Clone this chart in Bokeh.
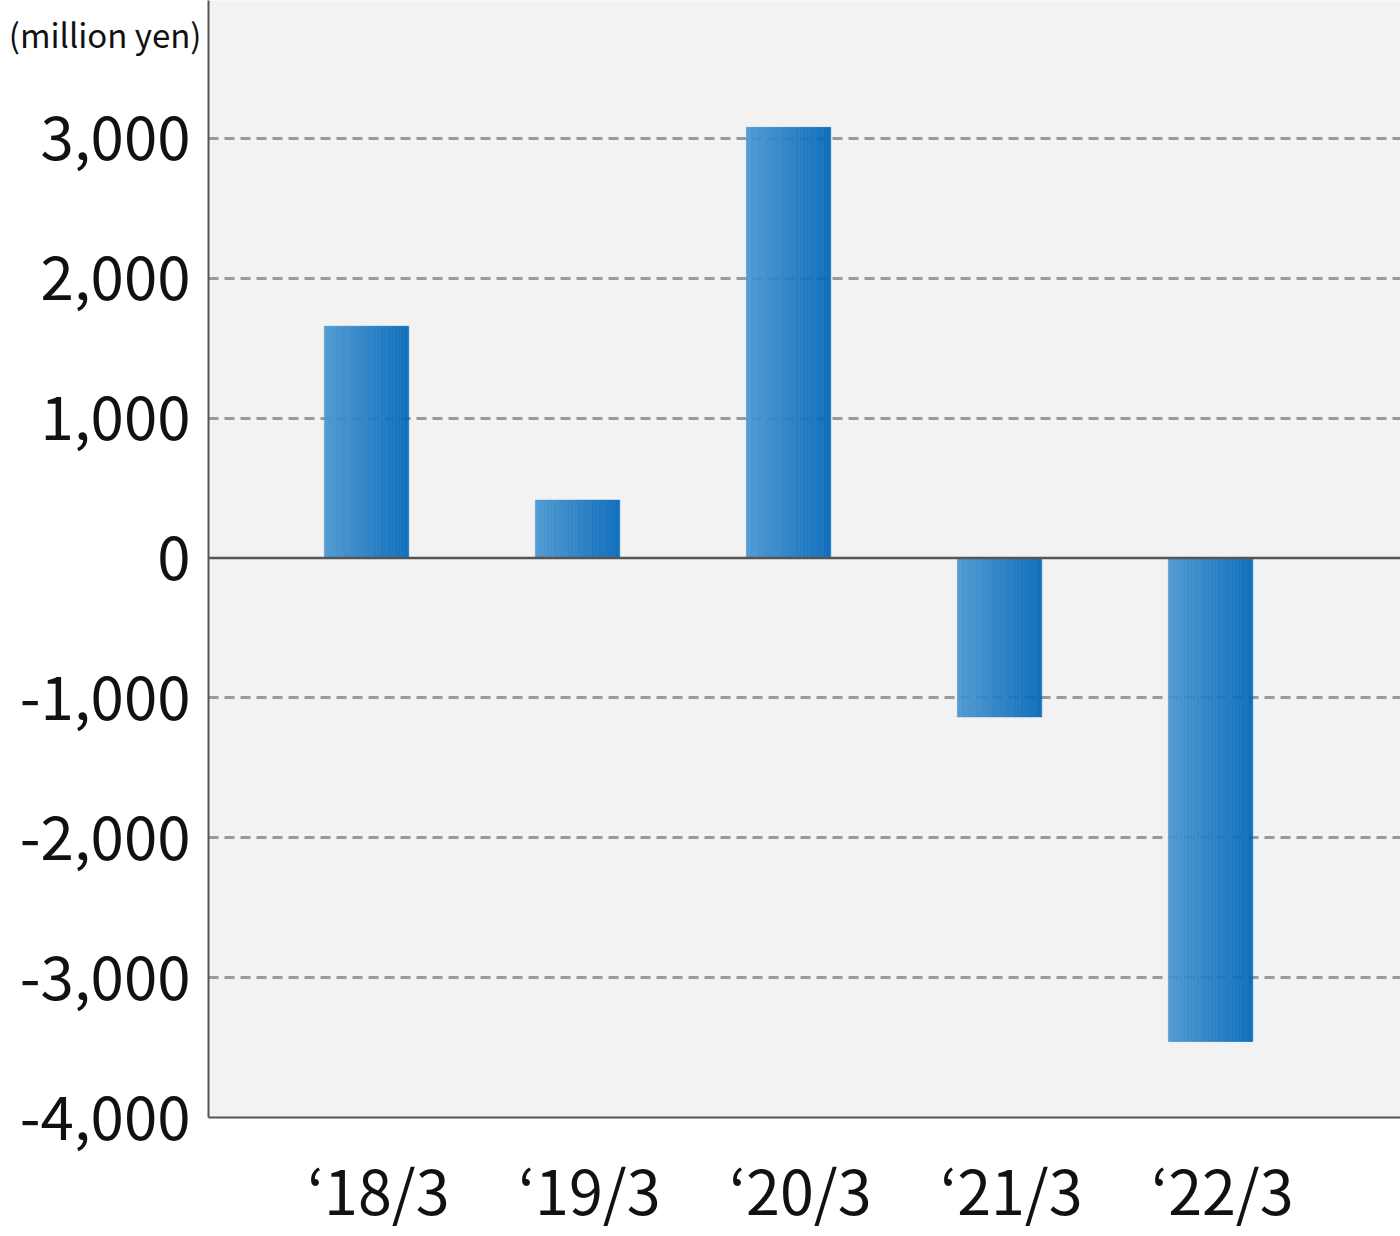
from bokeh.plotting import figure
from bokeh.models import Range1d, FixedTicker, CustomJSTickFormatter, Span, LinearAxis
from bokeh.embed import file_html
from bokeh.resources import INLINE

categories = ["\u201818/3", "\u201819/3", "\u201820/3", "\u201821/3", "\u201822/3"]
values = [1657, 414, 3079, -1136, -3457]
y_ticks = [-4000, -3000, -2000, -1000, 0, 1000, 2000, 3000]
grid_ticks = [-3000, -2000, -1000, 1000, 2000, 3000]
unit_label = "(million yen)"
unit_label_pos = [3750]

FONT = "Noto Sans CJK JP"
W, H = 1400, 1236

p = figure(width=W, height=H, output_backend="svg", toolbar_location=None,
           x_range=Range1d(-0.749, 4.9), y_range=Range1d(-4000, 3986),
           min_border_left=208, min_border_right=0, min_border_top=0,
           min_border_bottom=119)
p.background_fill_color = "#f2f2f2"
p.border_fill_color = "white"
p.outline_line_color = None

# grid (under the slightly translucent bars)
p.xgrid.visible = False
p.ygrid.ticker = FixedTicker(ticks=grid_ticks)
p.ygrid.grid_line_color = "#999999"
p.ygrid.grid_line_width = 3
p.ygrid.grid_line_dash = "10 6"

# gradient bars built from thin strips
bar_w = 0.4
N = 60
c0 = (0x49, 0x96, 0xd0)
c1 = (0x04, 0x68, 0xba)
xs, tops, ws, cols = [], [], [], []
for i, v in enumerate(values):
    for k in range(N):
        t = k / (N - 1)
        col = "#%02x%02x%02x" % tuple(int(round(a + (b - a) * t)) for a, b in zip(c0, c1))
        xs.append(i - bar_w / 2 + (k + 0.5) * bar_w / N)
        tops.append(v)
        ws.append(bar_w / N)
        cols.append(col)
p.vbar(x=xs, top=tops, bottom=0, width=ws, fill_color=cols, fill_alpha=0.9,
       line_color=cols, line_alpha=0.9, line_width=0.6)

p.add_layout(Span(location=0, dimension="width", line_color="#555555", line_width=2.5))

# main y axis
yax = p.yaxis[0]
yax.ticker = FixedTicker(ticks=y_ticks)
yax.formatter = CustomJSTickFormatter(code="return tick.toLocaleString('en-US');")
yax.major_label_text_font = FONT
yax.major_label_text_font_size = "60px"
yax.major_label_text_color = "#111111"
yax.major_label_standoff = 18
yax.major_tick_out = 0
yax.major_tick_in = 0
yax.major_tick_line_color = None
yax.minor_tick_line_color = None
yax.axis_line_color = "#555555"
yax.axis_line_width = 2

# unit label as an outer left axis with a single tick, pulled in over the border
uax = LinearAxis(ticker=FixedTicker(ticks=unit_label_pos),
                 formatter=CustomJSTickFormatter(args=dict(t=unit_label), code="return t;"))
uax.major_label_text_font = FONT
uax.major_label_text_font_size = "33px"
uax.major_label_text_color = "#111111"
uax.major_label_standoff = -185
uax.major_tick_out = 0
uax.major_tick_in = 0
uax.major_tick_line_color = None
uax.minor_tick_line_color = None
uax.axis_line_color = None
p.add_layout(uax, "left")

# x axis
xax = p.xaxis[0]
xax.ticker = FixedTicker(ticks=[i + 0.056 for i in range(len(categories))])
xax.formatter = CustomJSTickFormatter(args=dict(labels=categories),
                                      code="return labels[Math.round(tick)];")
xax.major_label_text_font = FONT
xax.major_label_text_font_size = "61px"
xax.major_label_text_color = "#111111"
xax.major_label_standoff = 20
xax.major_tick_line_color = None
xax.minor_tick_line_color = None
xax.axis_line_color = "#555555"
xax.axis_line_width = 2

open("out.html", "w").write(file_html(p, INLINE))
